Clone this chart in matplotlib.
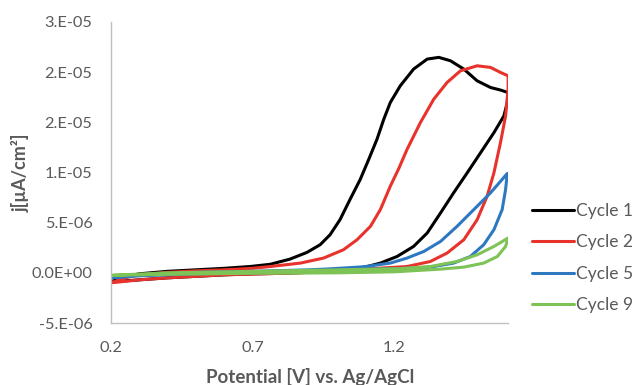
import matplotlib
matplotlib.use("Agg")
import matplotlib.pyplot as plt
import numpy as np

plt.rcParams['font.family'] = ['Lato', 'DejaVu Sans']

# Potential (V) and current density (units of 1e-6)
c1_fwd_v = [0.20, 0.25, 0.30, 0.40, 0.50, 0.60, 0.691, 0.762, 0.832, 0.891, 0.938, 0.973, 1.008, 1.043, 1.079, 1.109, 1.138, 1.162, 1.185, 1.220, 1.267, 1.315, 1.356, 1.397, 1.444, 1.491, 1.538, 1.575, 1.599]
c1_fwd_j = [-0.9, -0.4, -0.1, 0.15, 0.3, 0.45, 0.63, 0.85, 1.37, 2.03, 2.8, 3.8, 5.3, 7.3, 9.3, 11.3, 13.3, 15.3, 16.97, 18.63, 20.3, 21.3, 21.47, 21.13, 20.3, 19.13, 18.47, 18.2, 17.97]
c1_rev_v = [1.599, 1.597, 1.585, 1.550, 1.503, 1.456, 1.408, 1.362, 1.315, 1.267, 1.209, 1.150, 1.10, 1.05, 1.0, 0.9, 0.8, 0.7, 0.6, 0.5, 0.4, 0.3, 0.2]
c1_rev_j = [17.97, 16.97, 15.63, 13.97, 11.97, 9.97, 7.97, 5.97, 3.97, 2.63, 1.63, 0.97, 0.6, 0.4, 0.2, 0.05, -0.05, -0.1, -0.2, -0.35, -0.5, -0.7, -0.9]

c2_fwd_v = [0.20, 0.25, 0.30, 0.40, 0.50, 0.60, 0.70, 0.762, 0.868, 0.950, 1.020, 1.068, 1.115, 1.150, 1.185, 1.215, 1.244, 1.291, 1.338, 1.385, 1.432, 1.491, 1.538, 1.573, 1.600]
c2_fwd_j = [-1.0, -0.5, -0.2, 0.05, 0.2, 0.3, 0.45, 0.63, 0.97, 1.47, 2.3, 3.3, 4.63, 6.3, 8.63, 10.4, 12.3, 14.97, 17.3, 18.97, 20.13, 20.63, 20.47, 19.97, 19.63]
c2_rev_v = [1.600, 1.600, 1.591, 1.573, 1.550, 1.526, 1.491, 1.444, 1.385, 1.326, 1.244, 1.150, 1.0, 0.8, 0.6, 0.4, 0.3, 0.2]
c2_rev_j = [19.63, 18.3, 15.63, 12.97, 9.97, 7.63, 5.3, 3.3, 1.97, 1.13, 0.63, 0.47, 0.15, -0.05, -0.2, -0.5, -0.7, -1.0]

c5_fwd_v = [0.20, 0.30, 0.50, 0.70, 0.90, 0.974, 1.09, 1.185, 1.244, 1.303, 1.362, 1.420, 1.479, 1.538, 1.597]
c5_fwd_j = [-0.5, -0.2, 0.05, 0.15, 0.3, 0.4, 0.6, 0.97, 1.47, 2.13, 3.13, 4.63, 6.3, 7.97, 9.9]
c5_rev_v = [1.597, 1.591, 1.579, 1.550, 1.514, 1.467, 1.408, 1.326, 1.245, 1.1, 0.9, 0.7, 0.5, 0.3, 0.2]
c5_rev_j = [9.9, 8.3, 6.3, 4.3, 2.8, 1.63, 0.97, 0.57, 0.45, 0.35, 0.2, 0.05, -0.1, -0.3, -0.5]

c9_fwd_v = [0.20, 0.40, 0.70, 1.00, 1.15, 1.220, 1.326, 1.420, 1.491, 1.550, 1.600]
c9_fwd_j = [-0.25, 0.0, 0.15, 0.3, 0.38, 0.42, 0.63, 1.13, 1.8, 2.63, 3.47]
c9_rev_v = [1.600, 1.591, 1.562, 1.514, 1.444, 1.362, 1.2, 1.0, 0.7, 0.4, 0.2]
c9_rev_j = [3.47, 2.63, 1.63, 0.97, 0.57, 0.37, 0.1, 0.0, -0.05, -0.15, -0.25]

series_names = ['Cycle 1', 'Cycle 2', 'Cycle 5', 'Cycle 9']
series_colors = ['#000000', '#E8322C', '#2E78C2', '#7DC355']

y_ticks = [-5e-6, 0, 5e-6, 1e-5, 1.5e-5, 2e-5, 2.5e-5]
y_tick_labels = ['-5.E-06', '0.0E+00', '5.E-06', '1.E-05', '2.E-05', '2.E-05', '3.E-05']
x_ticks = [0.2, 0.7, 1.2]
x_tick_labels = ['0.2', '0.7', '1.2']

fig = plt.figure(figsize=(6.32, 3.85), dpi=100)
ax = fig.add_axes([0.175, 0.161, 0.804 - 0.175, 0.943 - 0.161])

data = [(c1_fwd_v, c1_fwd_j, c1_rev_v, c1_rev_j),
        (c2_fwd_v, c2_fwd_j, c2_rev_v, c2_rev_j),
        (c5_fwd_v, c5_fwd_j, c5_rev_v, c5_rev_j),
        (c9_fwd_v, c9_fwd_j, c9_rev_v, c9_rev_j)]

for (fv, fj, rv, rj), name, col in zip(data, series_names, series_colors):
    v = np.array(list(fv) + list(rv[1:]))
    j = np.array(list(fj) + list(rj[1:])) * 1e-6
    ax.plot(v, j, color=col, lw=2.2, label=name, solid_joinstyle='round', solid_capstyle='round')

ax.set_xlim(0.2, 1.6)
ax.set_ylim(-5e-6, 2.5e-5)
ax.set_xticks(x_ticks)
ax.set_xticklabels(x_tick_labels)
ax.set_yticks(y_ticks)
ax.set_yticklabels(y_tick_labels)
ax.tick_params(axis='both', length=0, labelsize=11.7, colors='#595959')
ax.tick_params(axis='x', pad=13)
ax.tick_params(axis='y', pad=13)
for s in ['top', 'right']:
    ax.spines[s].set_visible(False)
for s in ['left', 'bottom']:
    ax.spines[s].set_color('#BFBFBF')
    ax.spines[s].set_linewidth(1.0)

fig.text(0.49, 0.022, 'Potential [V] vs. Ag/AgCl', ha='center', va='center',
         fontsize=13.5, fontweight='bold', color='#595959')
fig.text(0.032, 0.55, 'j[µA/cm²]', ha='center', va='center', rotation=90,
         fontsize=13, fontweight='bold', color='#595959')

leg = ax.legend(loc='center left', bbox_to_anchor=(0.842, 0.33), bbox_transform=fig.transFigure,
                frameon=False, fontsize=12.5, handlelength=2.4, handletextpad=0.12,
                labelspacing=0.88, borderaxespad=0, borderpad=0)
for t in leg.get_texts():
    t.set_color('#595959')

fig.savefig('out.png', dpi=100)
